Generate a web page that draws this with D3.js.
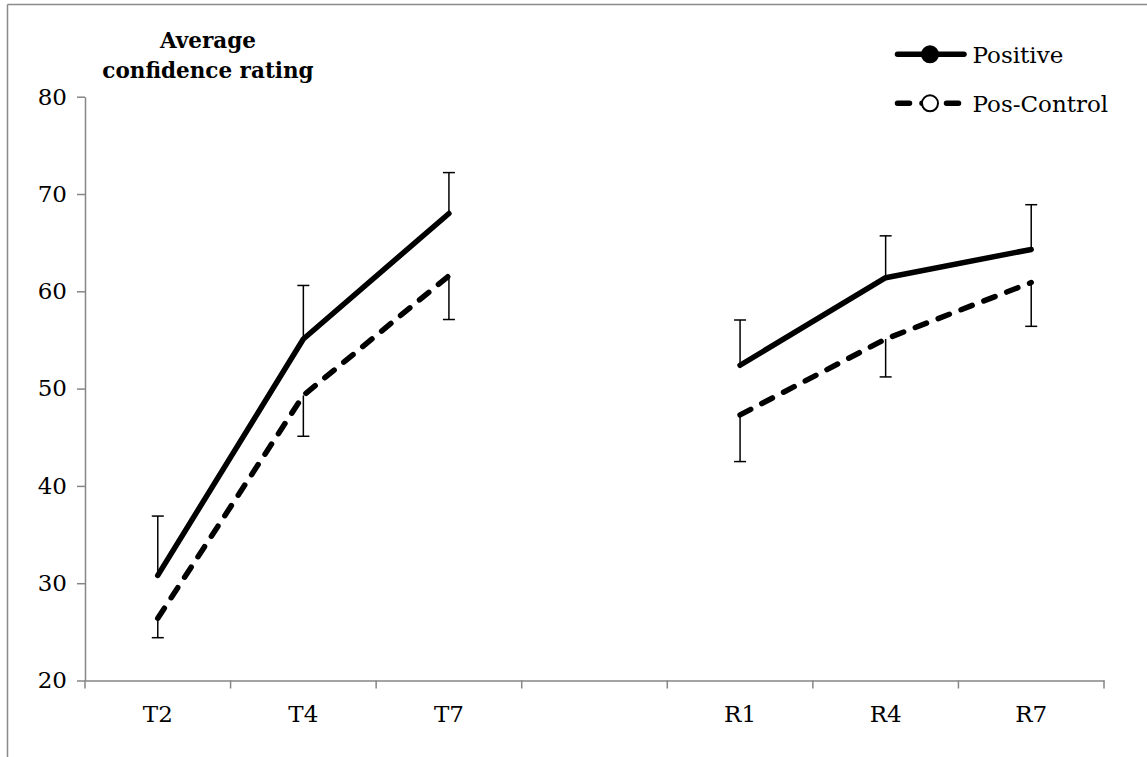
<!DOCTYPE html>
<html>
<head>
<meta charset="utf-8">
<script src="https://cdn.jsdelivr.net/npm/d3@7"></script>
<style>
  body { margin: 0; background: #fff; }
  text { font-family: "DejaVu Serif", serif; fill: #000; }
</style>
</head>
<body>
<script>
//chart data//
var categories = ["T2", "T4", "T7", "gap", "R1", "R4", "R7"];
var tickLabels = ["T2", "T4", "T7", "", "R1", "R4", "R7"];
var positive = [30.8, 55.1, 68.0, null, 52.4, 61.4, 64.3];
var positiveErr = [6.1, 5.5, 4.2, null, 4.65, 4.3, 4.6];      // drawn upward
var posControl = [26.4, 49.3, 61.6, null, 47.3, 55.1, 60.9];
var posControlErr = [2.0, 4.2, 4.5, null, 4.8, 3.9, 4.5];     // drawn downward
var yTicks = [20, 30, 40, 50, 60, 70, 80];
var seriesNames = ["Positive", "Pos-Control"];

var width = 1147, height = 757;

var svg = d3.select("body").append("svg")
    .attr("width", width)
    .attr("height", height);

//chart frame
svg.append("line").attr("x1", 7.5).attr("x2", 7.5).attr("y1", 4.5).attr("y2", height)
    .attr("stroke", "#8a8a8a").attr("stroke-width", 1.5);
svg.append("line").attr("x1", 7.5).attr("x2", width).attr("y1", 4.5).attr("y2", 4.5)
    .attr("stroke", "#8a8a8a").attr("stroke-width", 1.5);

//scales
var x = d3.scaleBand().domain(categories).range([85, 1104]).padding(0);
var y = d3.scaleLinear().domain([20, 80]).range([680.5, 96.7]);
var cx = function(i) { return x(categories[i]) + x.bandwidth() / 2; };

var axisColor = "#868686";

//y axis
var yAxis = svg.append("g")
    .attr("transform", "translate(85,0)")
    .call(d3.axisLeft(y).tickValues(yTicks).tickSize(8).tickSizeOuter(0).tickPadding(10));
yAxis.selectAll("path, line").attr("stroke", axisColor).attr("stroke-width", 1.5);
yAxis.selectAll("text").style("font-size", "23px").attr("font-family", null);

//x axis (labels only, boundary ticks drawn below)
var xAxis = svg.append("g")
    .attr("transform", "translate(0,680.5)")
    .call(d3.axisBottom(x).tickSize(0).tickSizeOuter(0).tickPadding(25)
        .tickFormat(function(d, i) { return tickLabels[i]; }));
xAxis.select("path").attr("stroke", axisColor).attr("stroke-width", 1.5);
xAxis.selectAll("text").style("font-size", "23px").attr("font-family", null);

var bounds = categories.map(function(c) { return x(c); }).concat([x.range()[1]]);
svg.append("g").selectAll("line")
    .data(bounds)
    .enter().append("line")
    .attr("x1", function(d) { return d; })
    .attr("x2", function(d) { return d; })
    .attr("y1", 680.5)
    .attr("y2", 688.5)
    .attr("stroke", axisColor)
    .attr("stroke-width", 1.5);

//error bars
function errorBars(vals, errs, dir) {
    var g = svg.append("g");
    vals.forEach(function(v, i) {
        if (v == null) return;
        var end = v + dir * errs[i];
        g.append("line")
            .attr("x1", cx(i)).attr("x2", cx(i))
            .attr("y1", y(v)).attr("y2", y(end))
            .attr("stroke", "#000").attr("stroke-width", 1.5);
        g.append("line")
            .attr("x1", cx(i) - 6).attr("x2", cx(i) + 6)
            .attr("y1", y(end)).attr("y2", y(end))
            .attr("stroke", "#000").attr("stroke-width", 1.5);
    });
}
errorBars(positive, positiveErr, 1);
errorBars(posControl, posControlErr, -1);

//lines
var line = d3.line()
    .defined(function(d) { return d != null; })
    .x(function(d, i) { return cx(i); })
    .y(function(d) { return y(d); });

svg.append("path")
    .datum(positive)
    .attr("d", line)
    .attr("fill", "none")
    .attr("stroke", "#000")
    .attr("stroke-width", 5.5)
    .attr("stroke-linecap", "round")
    .attr("stroke-linejoin", "round");

svg.append("path")
    .datum(posControl)
    .attr("d", line)
    .attr("fill", "none")
    .attr("stroke", "#000")
    .attr("stroke-width", 5.5)
    .attr("stroke-dasharray", "12,12.5")
    .attr("stroke-linecap", "round")
    .attr("stroke-linejoin", "round");

//y title
var title = svg.append("text")
    .attr("text-anchor", "middle")
    .style("font-size", "21.5px")
    .style("font-weight", "bold");
title.append("tspan").attr("x", 208).attr("y", 48).text("Average");
title.append("tspan").attr("x", 208).attr("y", 78).text("confidence rating");

//legend
var legend = svg.append("g");
var legendY = [54.3, 103.3];
seriesNames.forEach(function(name, i) {
    var ly = legendY[i];
    legend.append("line")
        .attr("x1", 897.5).attr("x2", 964)
        .attr("y1", ly).attr("y2", ly)
        .attr("stroke", "#000")
        .attr("stroke-width", 5.5)
        .attr("stroke-linecap", "round")
        .attr("stroke-dasharray", i === 1 ? "12,12.5" : null);
    legend.append("circle")
        .attr("cx", 930).attr("cy", ly)
        .attr("r", i === 0 ? 9 : 8)
        .attr("fill", i === 0 ? "#000" : "#fff")
        .attr("stroke", "#000")
        .attr("stroke-width", i === 0 ? 0 : 2);
    legend.append("text")
        .attr("x", 972.5)
        .attr("y", ly + 8.5)
        .style("font-size", "23px")
        .text(name);
});
</script>
</body>
</html>
